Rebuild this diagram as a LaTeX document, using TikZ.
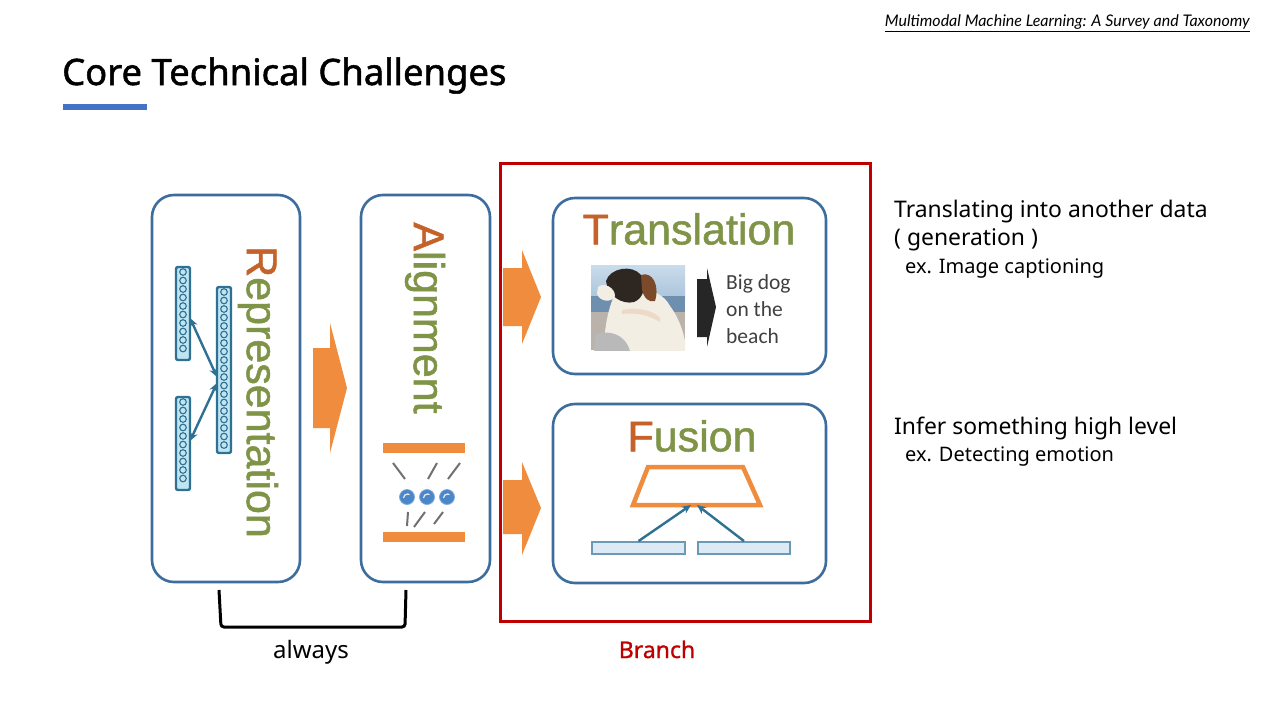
\documentclass[tikz,border=0pt]{standalone}
\usepackage{fontspec}
\setmainfont{Noto Sans}
\newfontfamily\arialf[FakeBold=1.2]{Liberation Sans}
\newfontfamily\calf{Carlito}
\newfontfamily\latof{Lato}
\newfontfamily\titlef[FakeBold=1.4]{Noto Sans}
\newfontfamily\semif[FakeBold=1.0]{Noto Sans}
\usetikzlibrary{arrows.meta}
\definecolor{boxblue}{HTML}{3D6D9C}
\definecolor{tOrange}{HTML}{C4622A}
\definecolor{tGreen}{HTML}{7F9447}
\definecolor{arrOrange}{HTML}{F08C3E}
\definecolor{vecblue}{HTML}{2F7192}
\definecolor{vecfill}{HTML}{BFE4F2}
\definecolor{barfill}{HTML}{DCEAF5}
\definecolor{barline}{HTML}{6E99B4}
\definecolor{brRed}{HTML}{C00000}
\definecolor{titleBlue}{HTML}{4472C4}
\definecolor{circBlue}{HTML}{4A86C8}
\definecolor{lineGrey}{HTML}{707070}
\definecolor{textGrey}{HTML}{404040}
\definecolor{skyTop}{HTML}{C9DCEB}
\definecolor{skyBot}{HTML}{A9C3DA}
\definecolor{seaCol}{HTML}{6F8FAE}
\definecolor{sandCol}{HTML}{B9B3AC}
\definecolor{furCol}{HTML}{F3EEE4}
\definecolor{headCol}{HTML}{2E2620}
\definecolor{earCol}{HTML}{7A4A2A}
\tikzset{
  bigbox/.style={draw=boxblue, line width=2.6pt, rounded corners=22pt, fill=white},
  vecbox/.style={draw=vecblue, line width=2.4pt, rounded corners=2pt, fill=vecfill},
  vecdot/.style={draw=vecblue, line width=1.1pt},
  blockarrow/.style={fill=arrOrange, draw=none},
  bigword/.style={font=\arialf\fontsize{43}{48}\selectfont, text=tGreen, inner sep=0pt},
  sidetext/.style={font=\fontsize{22.9}{27}\selectfont, anchor=base west, inner sep=0pt},
  smalltext/.style={font=\fontsize{20}{24}\selectfont, anchor=base west, inner sep=0pt},
  linkarrow/.style={draw=vecblue, line width=2.4pt, -{Stealth[length=9pt,width=8pt]}},
  dblarrow/.style={draw=vecblue, line width=2.4pt, {Stealth[length=9pt,width=8pt]}-{Stealth[length=9pt,width=8pt]}},
  greyline/.style={lineGrey, line width=2pt},
}
\begin{document}
\begin{tikzpicture}[x=1pt,y=-1pt]
\useasboundingbox (0,0) rectangle (1280,720);
\fill[white] (0,0) rectangle (1280,720);

% header
\node[font=\latof\itshape\fontsize{16}{19}\selectfont, anchor=base east, inner sep=0pt] (ref) at (1250,27) {\underline{Multimodal Machine Learning: A Survey and Taxonomy}};

% title
\node[font=\titlef\fontsize{36.4}{42}\selectfont, anchor=base west, inner sep=0pt] (title) at (62,85) {Core Technical Challenges};
\fill[titleBlue] (63,104) rectangle (147,110);

% boxes
\draw[bigbox] (152,195) rectangle (300,582);
\coordinate (rep) at (226,388);
\draw[bigbox] (361,195) rectangle (490,582);
\coordinate (ali) at (425,388);
\draw[brRed, line width=3pt] (500,163) rectangle (870,621);
\draw[bigbox] (553,198) rectangle (826,374);
\draw[bigbox] (553,404) rectangle (826,583);

% orange block arrows
\path[blockarrow] (313,348) -- (330,348) -- (330,323) -- (347,388) -- (330,453) -- (330,428) -- (313,428) -- cycle;
\path[blockarrow] (503,268) -- (522,268) -- (522,250) -- (541,297) -- (522,344) -- (522,326) -- (503,326) -- cycle;
\path[blockarrow] (503,480) -- (522,480) -- (522,462) -- (541,508) -- (522,555) -- (522,534) -- (503,534) -- cycle;

% Representation content
\node[bigword, rotate=-90] (reptext) at (258,392) {{\color{tOrange}R}epresentation};
\draw[vecbox] (176,267) rectangle (190,360);
\draw[vecbox] (176,397) rectangle (190,490);
\draw[vecbox] (217,287) rectangle (231,453);
\foreach \y in {272,280.5,...,356} {\draw[vecdot] (183,\y) circle (3.3pt);}
\foreach \y in {402,410.5,...,486} {\draw[vecdot] (183,\y) circle (3.3pt);}
\foreach \y in {292,300.5,...,449} {\draw[vecdot] (224,\y) circle (3.3pt);}
\coordinate (vc1) at (217,377);
\coordinate (vc2) at (217,383);
\coordinate (vt) at (190,318);
\coordinate (vb) at (190,441);
\draw[dblarrow] (vt) -- (vc1);
\draw[dblarrow] (vb) -- (vc2);

% Alignment content
\node[bigword, rotate=-90] (alitext) at (425,318) {{\color{tOrange}A}lignment};
\fill[arrOrange] (383,443) rectangle (465,453);
\fill[arrOrange] (383,532) rectangle (465,542);
\foreach \x/\n in {407/c1,427/c2,447/c3} {
  \node[circle, fill=circBlue, draw=circBlue!70!white, line width=0.8pt, minimum size=15pt, inner sep=0pt] (\n) at (\x,497) {};
  \draw[white!85!circBlue, line width=1.2pt] (\x-3.5,498) arc (180:60:4pt);
}
\draw[greyline] (393,463) -- (405,479);
\draw[greyline] (437,463) -- (428,479);
\draw[greyline] (460,463) -- (448,479);
\draw[greyline] (408,512) -- (407,526);
\draw[greyline] (425,512) -- (414,527);
\draw[greyline] (443,512) -- (434,524);

% Translation content
\node[bigword] (trtext) at (689,229) {{\color{tOrange}T}ranslation};
% dog picture (stylised)
\begin{scope}
\clip (591,265) rectangle (685,350);
\fill[top color=skyTop, bottom color=skyBot] (591,265) rectangle (685,300);
\fill[seaCol] (591,296) rectangle (685,316);
\fill[sandCol] (591,312) rectangle (685,350);
\fill[furCol] (614,296) .. controls (624,282) and (660,286) .. (670,306) .. controls (682,322) and (686,342) .. (686,351) -- (604,351) .. controls (604,332) and (607,312) .. (614,296) -- cycle;
\fill[headCol] (606,281) .. controls (610,268) and (632,264) .. (641,275) .. controls (648,285) and (643,299) .. (634,302) .. controls (622,305) and (608,296) .. (606,281) -- cycle;
\fill[furCol] (598,287) .. controls (603,282) and (615,287) .. (615,296) .. controls (612,303) and (600,302) .. (597,294) -- cycle;
\fill[earCol] (641,275) .. controls (652,271) and (660,285) .. (655,301) .. controls (649,303) and (644,298) .. (642,290) -- cycle;
\fill[gray!55] (596,334) .. controls (610,330) and (625,334) .. (630,351) -- (594,351) -- cycle;
\fill[brown!30!white] (622,310) .. controls (640,306) and (655,312) .. (660,318) -- (660,322) .. controls (650,316) and (638,312) .. (622,314) -- cycle;
\end{scope}
\path[fill=black!85] (697,279) -- (707,279) -- (707,268) -- (716,307) -- (707,347) -- (707,337) -- (697,337) -- cycle;
\node[font=\calf\fontsize{21.5}{27}\selectfont, text=textGrey, align=left, anchor=north west, inner sep=0pt] (caption) at (726,274) {Big dog\\on the\\beach};

% Fusion content
\node[bigword] (futext) at (692,436) {{\color{tOrange}F}usion};
\draw[arrOrange, line width=4.5pt, line join=miter] (648,467) -- (743,467) -- (760,505) -- (633,505) -- cycle;
\coordinate (ftop) at (694,505);
\node[draw=barline, fill=barfill, line width=1.8pt, minimum width=93pt, minimum height=12pt, inner sep=0pt] (barL) at (638.5,548) {};
\node[draw=barline, fill=barfill, line width=1.8pt, minimum width=92pt, minimum height=12pt, inner sep=0pt] (barR) at (744,548) {};
\draw[linkarrow] (barL.north) -- ([xshift=-3pt]ftop);
\draw[linkarrow] (barR.north) -- ([xshift=3pt]ftop);

% bracket
\coordinate (brA) at (219,590);
\coordinate (brB) at (406,590);
\draw[line width=3pt, rounded corners=3pt] (brA) -- (221,627) -- (405,627) -- (brB);
\node[font=\fontsize{24}{28}\selectfont, inner sep=0pt, anchor=base] (always) at (311,658) {always};
\node[font=\semif\fontsize{23}{27}\selectfont, inner sep=0pt, anchor=base, text=brRed] (branch) at (657,658) {Branch};

% side texts
\node[sidetext] (t1) at (894,217) {Translating into another data};
\node[sidetext] (t2) at (894,245) {( generation )};
\node[smalltext] (t3) at (905,273) {ex. Image captioning};
\node[sidetext] (t4) at (894,434) {Infer something high level};
\node[smalltext] (t5) at (905,461) {ex. Detecting emotion};
\end{tikzpicture}
\end{document}
